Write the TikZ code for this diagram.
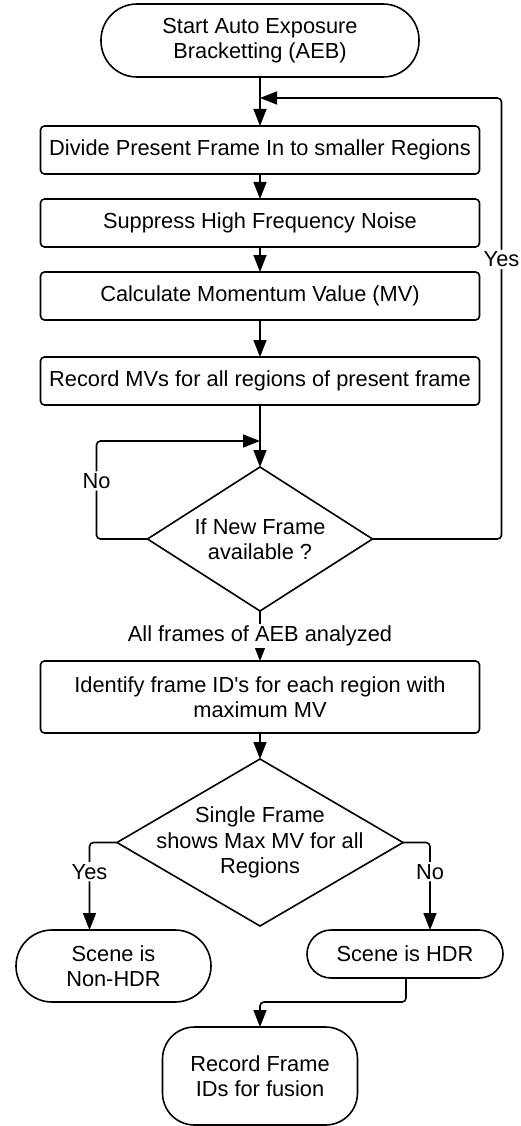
\documentclass[tikz,border=0pt]{standalone}
\usepackage{fontspec}
\setmainfont{Liberation Sans}
\usetikzlibrary{arrows.meta,positioning,shapes.geometric}

\begin{document}
\begin{tikzpicture}[x=1pt,y=1pt,>={Triangle[length=17pt,width=13pt]},
 line width=1.6pt,
 every node/.style={font=\fontsize{21.8}{25.5}\selectfont},
 proc/.style={draw,rounded corners=4pt,align=center,outer sep=0pt,
 minimum width=439pt,minimum height=48pt,inner sep=0pt},
 term/.style={draw,rounded corners=#1,align=center,inner sep=0pt,outer sep=0pt},
 dec/.style={draw,diamond,inner sep=0pt,outer sep=0pt,align=center},
 lbl/.style={fill=white,inner sep=2pt}]
\useasboundingbox (0,0) rectangle (520,-1126);
\node[term=36pt,minimum width=318pt,minimum height=73pt] (start) at (260,-40.5)
  {Start Auto Exposure\\Bracketting (AEB)};
\node[proc,below=49pt of start] (divide) {Divide Present Frame In to smaller Regions};
\node[proc,below=25pt of divide] (suppress) {Suppress High Frequency Noise};
\node[proc,below=25pt of suppress] (calc) {Calculate Momentum Value (MV)};
\node[proc,below=37pt of calc] (record) {Record MVs for all regions of present frame};
\node[dec,shape aspect=1.56,minimum width=225pt,minimum height=144pt,
  below=62pt of record] (newframe) {If New Frame\\available ?};
\node[proc,minimum height=72pt,below=50pt of newframe] (ident)
  {Identify frame ID\textquotesingle s for each region with\\maximum MV};
\node[dec,minimum width=286pt,minimum height=167pt,below=26pt of ident,
  label={[align=center]center:Single Frame\\shows Max MV for all\\Regions}] (single) {};
\node[term=36pt,minimum width=195pt,minimum height=72pt,anchor=north] (nonhdr)
  at (113.5,-930) {Scene is\\Non-HDR};
\node[term=24pt,minimum width=196pt,minimum height=48pt,anchor=north] (hdr)
  at (405,-930) {Scene is HDR};
\node[term=32pt,minimum width=195pt,minimum height=98pt,anchor=north] (fusion)
  at (260,-1027) {Record Frame\\IDs for fusion};
\coordinate[above=28pt of divide.north] (join);
\coordinate[above=26pt of newframe.north] (noin);
\draw[->] (start) -- (divide);
\draw[->] (divide) -- (suppress);
\draw[->] (suppress) -- (calc);
\draw[->] (calc) -- (record);
\draw[->] (record) -- (newframe);
\draw[->,rounded corners=4pt] (newframe.east) -- ++(129,0)
  |- node[lbl,pos=0.317]{Yes} (join);
\draw[->,rounded corners=4pt] (newframe.west) -- ++(-51,0)
  |- node[lbl,pos=0.296]{No} (noin);
\draw[->] (newframe) -- node[lbl]{All frames of AEB analyzed} (ident);
\draw[->] (ident) -- (single);
\draw[->,rounded corners=4pt] (single.west)
  -| node[lbl,pos=0.667]{Yes} ([xshift=-24pt]nonhdr.north);
\draw[->,rounded corners=4pt] (single.east)
  -| node[lbl,pos=0.667]{No} ([xshift=25pt]hdr.north);
\draw[->,rounded corners=4pt] ([xshift=1pt]hdr.south) -- ++(0,-24) -| (fusion.north);
\end{tikzpicture}
\end{document}
